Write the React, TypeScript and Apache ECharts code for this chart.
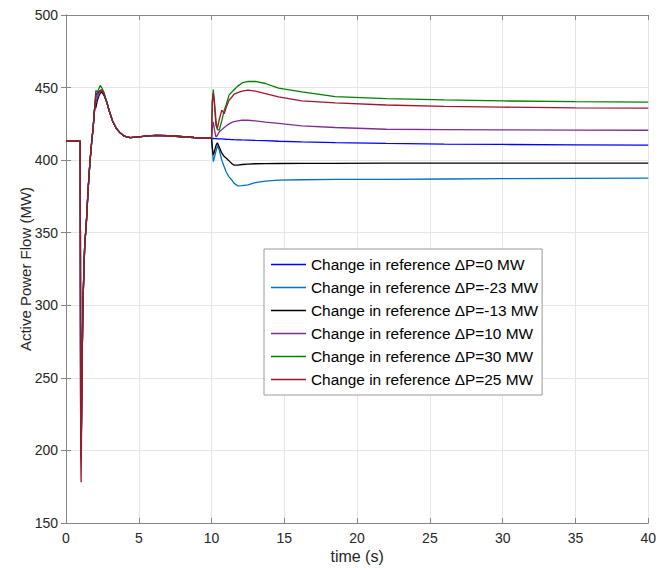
import React, { useEffect, useRef } from "react";
import * as echarts from "echarts";

// ---- data ----
const SERIES_NAMES = [
  "Change in reference ΔP=0 MW",
  "Change in reference ΔP=-23 MW",
  "Change in reference ΔP=-13 MW",
  "Change in reference ΔP=10 MW",
  "Change in reference ΔP=30 MW",
  "Change in reference ΔP=25 MW",
];
const COLORS = ["#0000FF", "#0072BD", "#000000", "#7E2F8E", "#008000", "#A2142F"];

// common start (fault at t = 1 s)
const T_EARLY = [0, 0.98, 1.01, 1.04, 1.1, 1.16, 1.28, 1.41, 1.52, 1.64, 1.76, 1.87, 1.97];
const V_EARLY = [413, 413, 196, 198, 255, 300, 340, 359, 380, 398, 412, 423, 436];
// deepest point at t = 1.04 per series
const DIP_MIN = [198, 198, 198, 198, 198, 178];

// first peak, per series
const T_PEAK = [2.05, 2.15, 2.25, 2.35, 2.45, 2.6];
const PEAK_BLUE = [444, 446, 447, 448, 448, 446];
const PEAK_LIGHTBLUE = [443, 445, 446, 447, 447, 445];
const PEAK_BLACK = [436, 441, 444, 446, 447, 445];
const PEAK_PURPLE = [440, 443, 445, 447, 448, 446];
const PEAK_GREEN = [448, 447, 449, 451.5, 450, 447];
const PEAK_RED = [446, 446, 447, 448, 448.5, 446];

// common settling until t = 10 s
const T_MID = [2.8, 3.0, 3.2, 3.45, 3.7, 4.0, 4.4, 5.0, 5.6, 6.2, 7.0, 7.8, 8.8, 10.0];
const V_MID = [440, 433, 427, 422, 419, 416.5, 415.5, 416, 416.7, 417, 416.8, 416.3, 415.6, 415];

// after the reference change at t = 10 s
const T_POST = [10.05, 10.12, 10.2, 10.3, 10.4, 10.53, 10.7, 10.87, 11.0, 11.2, 11.4, 11.55, 11.8, 12.1, 12.5, 13.0, 13.7, 14.6, 16.2, 18.5, 22, 26, 30, 35, 40];
const POST_BLUE = [414.9, 414.9, 414.8, 414.8, 414.7, 414.7, 414.6, 414.5, 414.4, 414.3, 414.2, 414.1, 414.0, 413.9, 413.8, 413.6, 413.4, 413.0, 412.6, 412.1, 411.5, 411.1, 410.8, 410.5, 410.3];
const POST_LIGHTBLUE = [408, 399, 402, 406, 410, 407, 400, 395.4, 392, 388.5, 386.2, 384, 382.3, 382.4, 383, 384.5, 385.5, 386.2, 386.5, 386.7, 386.8, 387, 387.2, 387.4, 387.6];
const POST_BLACK = [409, 403.5, 406, 410, 412, 409, 405, 402.5, 401.5, 399.5, 397.5, 396.6, 396.5, 397, 397.3, 397.5, 397.6, 397.7, 397.8, 397.8, 397.9, 397.9, 398, 398, 398];
const POST_PURPLE = [422, 426.4, 421, 416, 417, 419.5, 421, 422.5, 423.5, 425, 426, 426.5, 427, 427.5, 427.5, 427, 426.2, 425.3, 423.6, 422.5, 421.3, 421, 420.8, 420.7, 420.6];
const POST_GREEN = [440, 448.7, 440, 428, 421, 420.7, 427, 434.4, 438, 444.8, 447, 448.5, 451, 453.2, 454.2, 454.2, 452.8, 449.6, 447, 443.8, 442.4, 441.5, 440.8, 440.3, 440];
const POST_RED = [440, 446, 438, 424, 421.8, 428, 434.4, 432, 436, 441.3, 443.5, 445.5, 446.5, 447.5, 448.2, 447.5, 445.8, 443.6, 440.8, 439.5, 438, 437, 436.5, 436, 435.8];

const PEAKS = [PEAK_BLUE, PEAK_LIGHTBLUE, PEAK_BLACK, PEAK_PURPLE, PEAK_GREEN, PEAK_RED];
const POSTS = [POST_BLUE, POST_LIGHTBLUE, POST_BLACK, POST_PURPLE, POST_GREEN, POST_RED];

const X_TICKS = [0, 5, 10, 15, 20, 25, 30, 35, 40];
const Y_TICKS = [150, 200, 250, 300, 350, 400, 450, 500];

function buildSeriesData(i: number): number[][] {
  const pts: number[][] = [];
  T_EARLY.forEach((t, k) => pts.push([t, k === 3 ? DIP_MIN[i] : V_EARLY[k]]));
  T_PEAK.forEach((t, k) => pts.push([t, PEAKS[i][k]]));
  T_MID.forEach((t, k) => pts.push([t, V_MID[k]]));
  T_POST.forEach((t, k) => pts.push([t, POSTS[i][k]]));
  return pts;
}

const FONT = "'Liberation Sans', Arial, Helvetica, sans-serif";
const AXIS_COLOR = "#868686";
const LABEL_COLOR = "#262626";
const GRID_COLOR = "#e6e6e6";

export default function App() {
  const ref = useRef<HTMLDivElement>(null);
  useEffect(() => {
    if (!ref.current) return;
    const chart = echarts.init(ref.current, undefined, { renderer: "svg" });
    const xMin = X_TICKS[0];
    const xMax = X_TICKS[X_TICKS.length - 1];
    const yMin = Y_TICKS[0];
    const yMax = Y_TICKS[Y_TICKS.length - 1];
    const common = {
      axisLine: { show: true, lineStyle: { color: AXIS_COLOR, width: 1 } },
      axisTick: { show: true, inside: true, length: 5, lineStyle: { color: AXIS_COLOR } },
    };
    chart.setOption({
      animation: false,
      backgroundColor: "#ffffff",
      grid: { left: 66, right: 8, top: 15, bottom: 49, containLabel: false },
      legend: {
        orient: "vertical",
        left: 264,
        top: 249,
        padding: [8, 4, 8, 7],
        itemGap: 8,
        itemWidth: 35,
        itemHeight: 1.5,
        icon: "rect",
        borderColor: "#9a9a9a",
        borderWidth: 1,
        borderRadius: 0,
        backgroundColor: "#ffffff",
        textStyle: { fontFamily: FONT, fontSize: 15.4, color: "#000000", lineHeight: 15 },
        data: SERIES_NAMES,
      },
      xAxis: [
        {
          type: "value",
          min: xMin,
          max: xMax,
          interval: 5,
          name: "time (s)",
          nameLocation: "middle",
          nameGap: 25,
          nameMoveOverlap: false,
          nameTextStyle: { fontFamily: FONT, fontSize: 16, color: LABEL_COLOR },
          ...common,
          axisLabel: { fontFamily: FONT, fontSize: 14, color: LABEL_COLOR, margin: 8 },
          splitLine: { show: true, lineStyle: { color: GRID_COLOR, width: 1 } },
        },
        {
          type: "value",
          position: "top",
          min: xMin,
          max: xMax,
          interval: 5,
          ...common,
          axisLabel: { show: false },
          splitLine: { show: false },
        },
      ],
      yAxis: [
        {
          type: "value",
          min: yMin,
          max: yMax,
          interval: 50,
          name: "Active Power Flow (MW)",
          nameLocation: "middle",
          nameGap: 33,
          nameMoveOverlap: false,
          nameTextStyle: { fontFamily: FONT, fontSize: 15, color: LABEL_COLOR },
          ...common,
          axisLabel: { fontFamily: FONT, fontSize: 14, color: LABEL_COLOR, margin: 8 },
          splitLine: { show: true, lineStyle: { color: GRID_COLOR, width: 1 } },
        },
        {
          type: "value",
          position: "right",
          min: yMin,
          max: yMax,
          interval: 50,
          ...common,
          axisLabel: { show: false },
          splitLine: { show: false },
        },
      ],
      series: SERIES_NAMES.map((name, i) => ({
        name,
        type: "line",
        xAxisIndex: 0,
        yAxisIndex: 0,
        data: buildSeriesData(i),
        showSymbol: false,
        symbol: "none",
        smooth: false,
        lineStyle: { color: COLORS[i], width: 1.3 },
        itemStyle: { color: COLORS[i] },
      })),
    });
    return () => chart.dispose();
  }, []);
  return (
    <div
      ref={ref}
      style={{ position: "fixed", left: 0, top: 0, width: 659, height: 572, background: "#fff" }}
    />
  );
}
